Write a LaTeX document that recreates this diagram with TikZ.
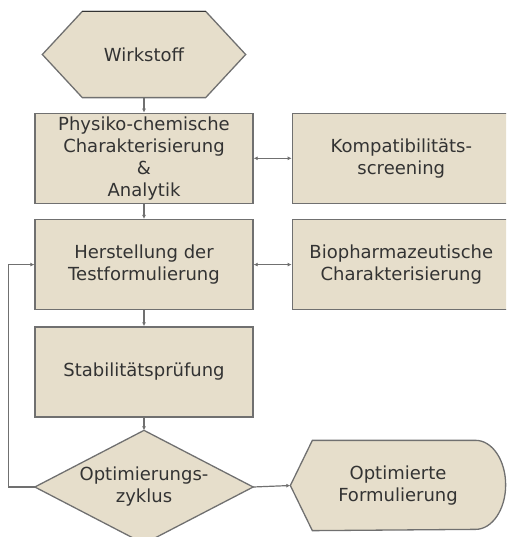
\documentclass[tikz,border=0pt]{standalone}
\usepackage{fontspec}
\setmainfont{DejaVu Sans}
\usetikzlibrary{arrows.meta,positioning,calc,backgrounds}
\definecolor{boxfill}{HTML}{E6DECB}
\definecolor{boxline}{HTML}{707070}
\definecolor{txtcol}{HTML}{333333}

\begin{document}
\begin{tikzpicture}[
  x=1pt, y=-1pt,
  node distance=15pt and 38pt,
  box/.style={draw=boxline, fill=boxfill, line width=1.3pt, align=center,
              minimum width=218pt, minimum height=90pt, inner sep=0pt,
              text=txtcol, font=\fontsize{18}{22}\selectfont},
  ghost/.style={box, draw=none, fill=none},
  shapeline/.style={draw=boxline, fill=boxfill, line width=1.3pt},
  arr/.style={-{Latex[length=4pt,width=4pt]}, draw=boxline, line width=1.2pt},
  darr/.style={arr, {Latex[length=4pt,width=4pt]}-{Latex[length=4pt,width=4pt]}},
]
\useasboundingbox (0,0) rectangle (506,537);
\clip (0,0) rectangle (506,537);

% left column
\node[ghost, minimum width=202pt, minimum height=85pt] (wirk) at (144,54.5) {Wirkstoff};
\node[box, below=of wirk] (phys) {Physiko-chemische\\Charakterisierung\\\&\\Analytik};
\node[box, below=of phys] (herst) {Herstellung der\\Testformulierung};
\node[box, below=16pt of herst] (stab) {Stabilitätsprüfung};
\node[ghost, minimum width=217pt, minimum height=112pt] (opt) at (144,487) {Optimierungs-\\zyklus};

% right column
\node[box, right=of phys] (kompat) {Kompatibilitäts-\\screening};
\node[box, right=of herst] (bio) {Biopharmazeutische\\Charakterisierung};
\node[ghost, minimum width=214pt, minimum height=89pt] (fin) at (398,485.5) {Optimierte\\Formulierung};

% outlines of the non-rectangular shapes
\begin{scope}[on background layer]
  \draw[shapeline] ($(wirk.north west)+(40,0)$) -- ($(wirk.north east)+(-40,0)$)
    -- (wirk.east) -- ($(wirk.south east)+(-40,0)$) -- ($(wirk.south west)+(40,0)$)
    -- (wirk.west) -- cycle;
  \draw[black!80, line width=1.6pt] ($(wirk.north west)+(40,0)$) -- ($(wirk.north east)+(-40,0)$);
  \draw[shapeline] (opt.north) -- (opt.east) -- (opt.south) -- (opt.west) -- cycle;
  \draw[shapeline] (fin.west) -- ($(fin.north west)+(22,0)$) -- ($(fin.north east)+(-30,0)$)
    arc[start angle=90, end angle=-90, x radius=30pt, y radius=44.5pt]
    -- ($(fin.south west)+(22,0)$) -- cycle;
\end{scope}

% connectors
\draw[arr] (wirk) -- (phys);
\draw[arr] (phys) -- (herst);
\draw[arr] (herst) -- (stab);
\draw[arr] (stab) -- (opt.north);
\draw[darr] (phys) -- (kompat);
\draw[darr] (herst) -- (bio);
\draw[arr] (opt.east) -- (fin.west);
\draw[arr] (opt.west) -- ++(-26,0) |- (herst.west);
\end{tikzpicture}
\end{document}
